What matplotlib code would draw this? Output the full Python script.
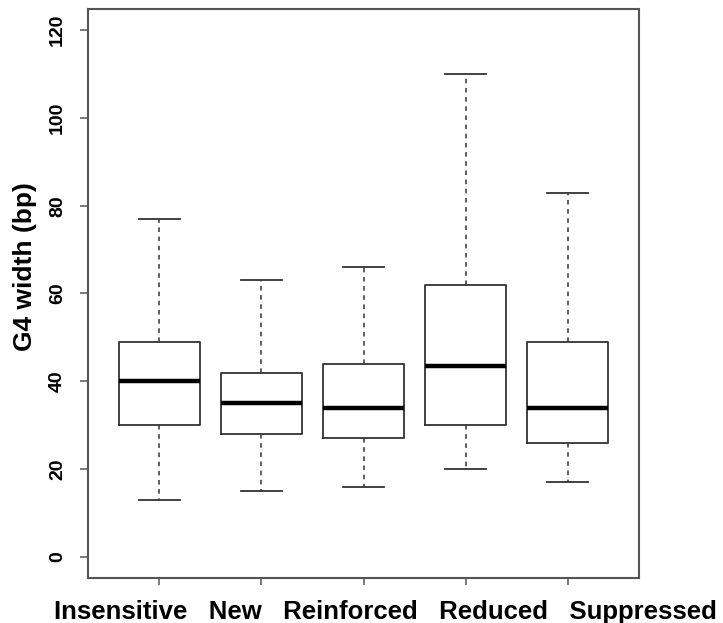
import matplotlib
matplotlib.use("Agg")
import matplotlib.pyplot as plt

categories = ["Insensitive", "New", "Reinforced", "Reduced", "Suppressed"]
whisker_low = [13, 15, 16, 20, 17]
q1 = [30, 28, 27, 30, 26]
median = [40, 35, 34, 43.5, 34]
q3 = [49, 42, 44, 62, 49]
whisker_high = [77, 63, 66, 110, 83]
yticks = [0, 20, 40, 60, 80, 100, 120]

W, H = 723, 623
fig = plt.figure(figsize=(W / 100, H / 100), dpi=100)
ax = fig.add_axes([88 / W, (H - 578) / H, (639 - 88) / W, (578 - 9) / H])

stats = []
for i, name in enumerate(categories):
    stats.append(dict(label=name, whislo=whisker_low[i], q1=q1[i], med=median[i],
                      q3=q3[i], whishi=whisker_high[i], fliers=[]))

positions = list(range(1, len(categories) + 1))
ax.bxp(stats, positions=positions, widths=0.8, showfliers=False, patch_artist=False,
       boxprops=dict(color="#333333", linewidth=1.3),
       medianprops=dict(color="black", linewidth=3.2, solid_capstyle="butt"),
       whiskerprops=dict(color="#333333", linewidth=1.1, linestyle=(0, (3, 3))),
       capprops=dict(color="#333333", linewidth=1.3), capwidths=0.4)

ax.set_xlim(0.3, 5.7)
ax.set_ylim(-4.8, 124.8)
ax.set_yticks(yticks)
ax.set_yticklabels([str(v) for v in yticks], rotation=90, va="center",
                   fontsize=14, fontweight="bold", family="Liberation Sans")
ax.set_xticks(positions)
ax.set_xticklabels([])
ax.tick_params(axis="y", length=5.8, width=1.1, color="#555555", pad=10)
ax.tick_params(axis="x", length=5, width=1.1, color="#555555")

for s in ax.spines.values():
    s.set_color("#555555")
    s.set_linewidth(1.5)

fig.text(385.5 / W, 4 / H, "   ".join(categories), ha="center", va="baseline",
         fontsize=18.5, fontweight="bold", family="Liberation Sans")
fig.text(25 / W, (H - 267) / H, "G4 width (bp)", rotation=90, ha="center", va="center",
         fontsize=19, fontweight="bold", family="Liberation Sans")

fig.savefig("out.png", dpi=100)
